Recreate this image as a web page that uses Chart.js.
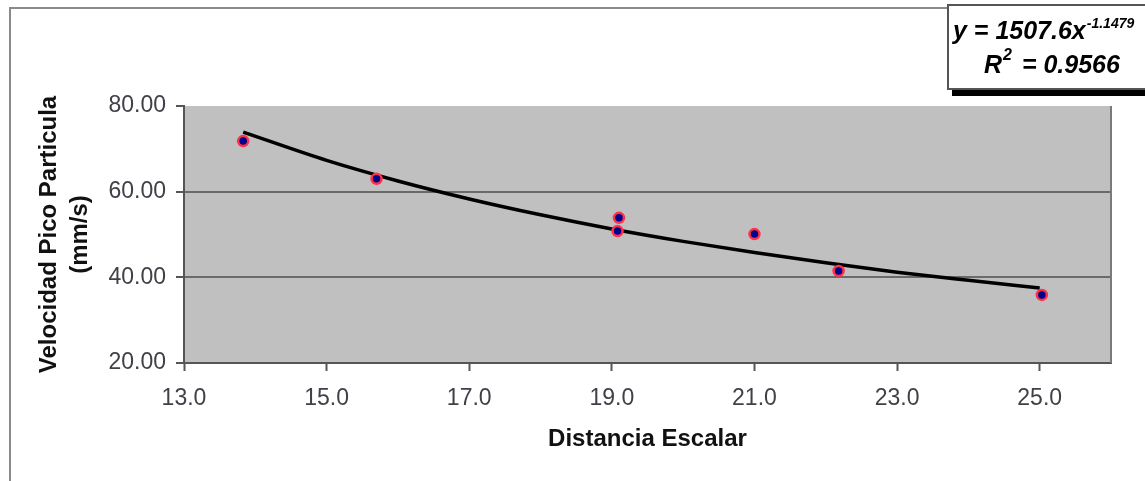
<!DOCTYPE html>
<html>
<head>
<meta charset="utf-8">
<script src="https://cdn.jsdelivr.net/npm/chart.js@4/dist/chart.umd.min.js"></script>
<style>
  html, body { margin: 0; padding: 0; background: #fff; }
  #wrap { width: 1145px; height: 481px; position: relative; }
</style>
</head>
<body>
<div id="wrap"><canvas id="c" width="1145" height="481"></canvas></div>
<script>
// ---- data ----
const pointX = [13.83, 15.70, 19.08, 19.10, 21.00, 22.18, 25.03];
const pointY = [71.8, 63.0, 50.8, 53.9, 50.1, 41.5, 35.9];
// power trendline y = 1507.6x^-1.1479 (as drawn in the reference)
const trendX = [13.83, 15, 16, 17, 18, 19, 20, 21, 22, 23, 24, 25];
const trendY = [73.9, 67.3, 62.5, 58.3, 54.6, 51.3, 48.4, 45.8, 43.4, 41.2, 39.3, 37.5];
const xTicks = [13, 15, 17, 19, 21, 23, 25];
const yTicks = [20, 40, 60, 80];
const xTitle = 'Distancia Escalar';
const yTitle = ['Velocidad Pico Particula', '(mm/s)'];
const eqMain = 'y = 1507.6x';
const eqExp = '-1.1479';
const r2Label = 'R';
const r2Exp = '2';
const r2Value = ' = 0.9566';

const FONT = "'Liberation Sans', Arial, sans-serif";

const decor = {
  id: 'decor',
  beforeDraw(chart) {
    const {ctx, chartArea: a} = chart;
    ctx.save();
    ctx.fillStyle = '#c0c0c0';
    ctx.fillRect(a.left, a.top, a.right - a.left, a.bottom - a.top);
    // outer chart border
    ctx.strokeStyle = '#8a8a8a';
    ctx.lineWidth = 2;
    ctx.beginPath();
    ctx.moveTo(10, 481);
    ctx.lineTo(10, 8);
    ctx.lineTo(948, 8);
    ctx.stroke();
    ctx.restore();
  },
  afterDraw(chart) {
    const {ctx, chartArea: a} = chart;
    ctx.save();
    // right plot border
    ctx.strokeStyle = '#7a7a7a';
    ctx.lineWidth = 2;
    ctx.beginPath();
    ctx.moveTo(a.right, a.top);
    ctx.lineTo(a.right, a.bottom);
    ctx.stroke();
    // equation box
    ctx.fillStyle = '#000';
    ctx.fillRect(952, 89, 200, 7);
    ctx.fillStyle = '#fff';
    ctx.fillRect(948, 5, 200, 84);
    ctx.strokeStyle = '#555';
    ctx.lineWidth = 2;
    ctx.strokeRect(948, 5, 210, 84);
    ctx.fillStyle = '#000';
    ctx.textBaseline = 'alphabetic';
    ctx.textAlign = 'left';
    ctx.font = 'italic bold 25px ' + FONT;
    ctx.fillText(eqMain, 953, 39);
    let w = ctx.measureText(eqMain).width;
    ctx.font = 'italic bold 14px ' + FONT;
    ctx.fillText(eqExp, 953 + w + 1, 28);
    ctx.font = 'italic bold 25px ' + FONT;
    ctx.fillText(r2Label, 984, 73);
    let w2 = ctx.measureText(r2Label).width;
    ctx.font = 'italic bold 16px ' + FONT;
    ctx.fillText(r2Exp, 984 + w2 + 1, 60);
    let w3 = ctx.measureText(r2Exp).width;
    ctx.font = 'italic bold 25px ' + FONT;
    ctx.fillText(r2Value, 984 + w2 + w3 + 4, 73);
    ctx.restore();
  }
};

new Chart(document.getElementById('c'), {
  type: 'scatter',
  data: {
    datasets: [
      {
        type: 'line',
        label: 'Tendencia',
        data: trendX.map((x, i) => ({x: x, y: trendY[i]})),
        borderColor: '#000',
        borderWidth: 3.5,
        pointRadius: 0,
        cubicInterpolationMode: 'monotone',
        fill: false,
        order: 2
      },
      {
        label: 'Datos',
        data: pointX.map((x, i) => ({x: x, y: pointY[i]})),
        backgroundColor: '#00008b',
        borderColor: '#ff3048',
        borderWidth: 2.5,
        pointRadius: 5,
        pointStyle: 'circle',
        order: 1
      }
    ]
  },
  options: {
    responsive: false,
    animation: false,
    devicePixelRatio: 1,
    layout: { padding: { left: 0, top: 106, right: 34, bottom: 0 } },
    plugins: { legend: { display: false }, tooltip: { enabled: false } },
    scales: {
      x: {
        type: 'linear',
        min: 13, max: 26,
        afterFit(s) { s.height = 118; },
        afterBuildTicks(s) { s.ticks = xTicks.map(v => ({value: v})); },
        ticks: {
          color: '#404048',
          font: { family: FONT, size: 23 },
          padding: 14,
          maxRotation: 0,
          autoSkip: false,
          callback: v => Number(v).toFixed(1)
        },
        grid: { drawOnChartArea: false, drawTicks: true, tickLength: 8, tickColor: '#555', tickWidth: 2 },
        border: { color: '#555', width: 2 },
        title: {
          display: true, text: xTitle, color: '#111',
          font: { family: FONT, size: 24, weight: 'bold', lineHeight: 1.2 },
          padding: { top: 0, bottom: 27 }
        }
      },
      y: {
        type: 'linear',
        min: 20, max: 80,
        afterFit(s) { s.width = 184; },
        afterBuildTicks(s) { s.ticks = yTicks.map(v => ({value: v})); },
        ticks: {
          color: '#404048',
          font: { family: FONT, size: 23 },
          padding: 10,
          autoSkip: false,
          callback: v => Number(v).toFixed(2)
        },
        grid: {
          color: c => (c.tick && (c.tick.value === 60 || c.tick.value === 40)) ? '#6a6a6a' : 'rgba(0,0,0,0)',
          lineWidth: 2,
          tickLength: 8, tickColor: '#555', tickWidth: 2
        },
        border: { color: '#555', width: 2 },
        title: {
          display: true, text: yTitle, color: '#111',
          font: { family: FONT, size: 24, weight: 'bold', lineHeight: 1.3 },
          padding: { top: 34, bottom: 0 }
        }
      }
    }
  },
  plugins: [decor]
});
</script>
</body>
</html>
